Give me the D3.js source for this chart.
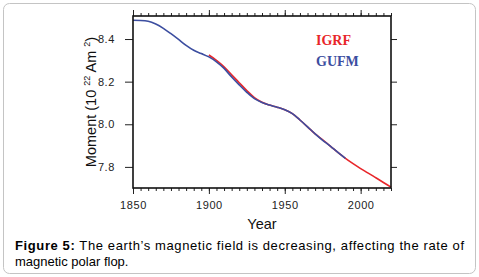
<!DOCTYPE html>
<html lang="en">
<head>
<meta charset="UTF-8" />
<title>Magnetic moment</title>
<script src="https://d3js.org/d3.v7.min.js"></script>
<style>
    body { margin: 0; background: #fff; }
</style>
</head>
<body>
<script>
    var W = 479, H = 277;
    var m = {left: 133, right: 88, top: 16, bottom: 89};
    var sans = "Liberation Sans, Arial, sans-serif";
    var serif = "Liberation Serif, Times New Roman, serif";

    // GUFM model, 1850-1990
    var gufmYears = [1850,1855,1860,1865,1870,1875,1880,1885,1890,1895,1900,1905,1910,1915,1920,1925,1930,1935,1940,1945,1950,1955,1960,1965,1970,1975,1980,1985,1990];
    var gufmMoment = [8.488,8.487,8.483,8.470,8.450,8.425,8.398,8.370,8.347,8.332,8.316,8.293,8.262,8.222,8.185,8.150,8.120,8.102,8.090,8.080,8.068,8.050,8.020,7.988,7.955,7.925,7.898,7.868,7.840];
    // IGRF model, 1900-2020
    var igrfYears = [1900,1905,1910,1915,1920,1925,1930,1935,1940,1945,1950,1955,1960,1965,1970,1975,1980,1985,1990,1995,2000,2005,2010,2015,2020];
    var igrfMoment = [8.325,8.300,8.270,8.232,8.195,8.158,8.125,8.103,8.090,8.080,8.068,8.050,8.020,7.988,7.955,7.927,7.898,7.868,7.840,7.815,7.792,7.771,7.749,7.727,7.705];

    var xTicks = [1850, 1900, 1950, 2000];
    var yTicks = [7.8, 8.0, 8.2, 8.4];

    var svg = d3.select("body").append("svg")
        .attr("width", W).attr("height", H)
        .attr("font-family", sans);

    // card border
    svg.append("rect")
        .attr("x", 3.5).attr("y", 3.5)
        .attr("width", W - 7).attr("height", H - 7)
        .attr("rx", 6)
        .attr("fill", "#fff").attr("stroke", "#c4c4c4");

    var x = d3.scaleLinear().domain([1850, 2020]).range([m.left, W - m.right]);
    var y = d3.scaleLinear().domain([7.701, 8.508]).range([H - m.bottom, m.top]);

    var minor = d3.range(1850, 2021, 5);

    function styleLabels(g) {
        g.select(".domain").remove();
        g.selectAll("text").attr("font-size", 11).attr("fill", "#222")
            .attr("font-family", sans)
            .attr("letter-spacing", "0.6px");
    }

    // bottom axis
    svg.append("g")
        .attr("transform", "translate(0," + (H - m.bottom) + ")")
        .call(d3.axisBottom(x).tickValues(minor).tickSize(3).tickFormat(""))
        .call(function(g){ g.select(".domain").remove(); });
    svg.append("g")
        .attr("transform", "translate(0," + (H - m.bottom) + ")")
        .call(d3.axisBottom(x).tickValues(xTicks).tickSize(6).tickPadding(7).tickFormat(d3.format("d")))
        .call(styleLabels);

    // top axis
    svg.append("g")
        .attr("transform", "translate(0," + m.top + ")")
        .call(d3.axisTop(x).tickValues(minor).tickSize(3).tickFormat(""))
        .call(function(g){ g.select(".domain").remove(); });
    svg.append("g")
        .attr("transform", "translate(0," + m.top + ")")
        .call(d3.axisTop(x).tickValues(xTicks).tickSize(6).tickFormat(""))
        .call(function(g){ g.select(".domain").remove(); });

    // left axis
    svg.append("g")
        .attr("transform", "translate(" + m.left + ",0)")
        .call(d3.axisLeft(y).tickValues(yTicks).tickSize(8).tickPadding(10).tickFormat(d3.format(".1f")))
        .call(styleLabels);

    // right axis
    svg.append("g")
        .attr("transform", "translate(" + (W - m.right) + ",0)")
        .call(d3.axisRight(y).tickValues(yTicks).tickSize(6).tickFormat(""))
        .call(function(g){ g.select(".domain").remove(); });

    svg.selectAll(".tick line").attr("stroke", "#222").attr("stroke-width", 1);

    // lines
    var line = d3.line()
        .x(function(d){ return x(d[0]); })
        .y(function(d){ return y(d[1]); })
        .curve(d3.curveMonotoneX);

    svg.append("path")
        .datum(d3.zip(igrfYears, igrfMoment))
        .attr("d", line)
        .attr("fill", "none").attr("stroke", "#e8262a").attr("stroke-width", 1.6);
    svg.append("path")
        .datum(d3.zip(gufmYears, gufmMoment))
        .attr("d", line)
        .attr("fill", "none").attr("stroke", "#3c4ea0").attr("stroke-width", 1.6);

    // frame
    svg.append("rect")
        .attr("x", m.left).attr("y", m.top)
        .attr("width", W - m.left - m.right).attr("height", H - m.top - m.bottom)
        .attr("fill", "none").attr("stroke", "#111").attr("stroke-width", 1.6);

    // legend
    svg.append("text").attr("x", 316).attr("y", 45)
        .attr("font-family", serif)
        .attr("font-weight", "bold").attr("font-size", 14).attr("fill", "#e8262a")
        .text("IGRF");
    svg.append("text").attr("x", 316).attr("y", 66)
        .attr("font-family", serif)
        .attr("font-weight", "bold").attr("font-size", 14).attr("fill", "#3c4ea0")
        .text("GUFM");

    // axis titles
    svg.append("text")
        .attr("x", 262).attr("y", 229)
        .attr("text-anchor", "middle").attr("font-size", 14.5).attr("fill", "#111")
        .text("Year");

    var yl = svg.append("text")
        .attr("transform", "translate(96,102) rotate(-90)")
        .attr("text-anchor", "middle").attr("font-size", 14.5).attr("fill", "#111");
    yl.append("tspan").text("Moment (10 ");
    yl.append("tspan").attr("font-size", 9).attr("dy", -6).text("22");
    yl.append("tspan").attr("dy", 6).text(" Am ");
    yl.append("tspan").attr("font-size", 9).attr("dy", -6).text("2");
    yl.append("tspan").attr("dy", 6).text(")");

    // caption
    var cap = svg.append("text")
        .attr("x", 15).attr("y", 250)
        .attr("font-size", 13).attr("fill", "#000")
        .attr("textLength", 449).attr("lengthAdjust", "spacing");
    cap.append("tspan").attr("font-weight", "bold").text("Figure 5:");
    cap.append("tspan").text(" The earth\u2019s magnetic field is decreasing, affecting the rate of");
    svg.append("text")
        .attr("x", 15).attr("y", 266)
        .attr("font-size", 13).attr("fill", "#000")
        .text("magnetic polar flop.");
</script>
</body>
</html>
